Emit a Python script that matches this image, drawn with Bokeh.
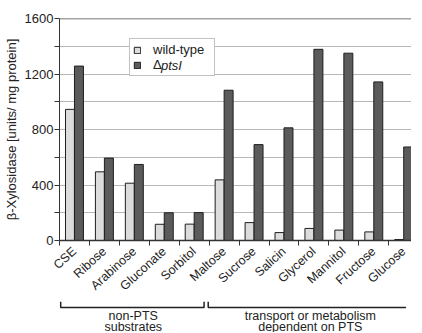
import math
from bokeh.plotting import figure
from bokeh.models import (Range1d, FixedTicker, Legend, LegendItem, Span,
                          ColumnDataSource)
from bokeh.layouts import column
from bokeh.embed import file_html
from bokeh.resources import INLINE
from bokeh.core.properties import value

# ---- data ----
categories = ["CSE", "Ribose", "Arabinose", "Gluconate", "Sorbitol", "Maltose",
              "Sucrose", "Salicin", "Glycerol", "Mannitol", "Fructose", "Glucose"]
wild_type = [945, 495, 413, 117, 118, 437, 129, 57, 87, 75, 62, 7]
delta_ptsI = [1257, 594, 548, 200, 201, 1083, 691, 812, 1378, 1350, 1143, 674]
y_ticks = [0, 400, 800, 1200, 1600]
y_minor = [200, 600, 1000, 1400]
group_start = [0, 5]
group_end = [5, 12]
group_line1 = ["non-PTS", "transport or metabolism"]
group_line2 = ["substrates", "dependent on PTS"]

FONT = "Liberation Sans"
TXT = "#222222"
LEFT = 54
FRAME_W = 352
FRAME_H = 222
X_END = 11.76
W = LEFT + FRAME_W
H2 = 31

n = len(categories)
centers = [i + 0.5 for i in range(n)]
bounds = list(range(n + 1))
x_range = Range1d(0, X_END)

p = figure(frame_width=FRAME_W, frame_height=FRAME_H, x_range=x_range,
           y_range=Range1d(0, 1600),
           output_backend="svg", toolbar_location=None,
           min_border_left=LEFT, min_border_right=0, min_border_top=18,
           min_border_bottom=0)
p.outline_line_color = None

src = ColumnDataSource(dict(xl=[c - 0.15 for c in centers],
                            xd=[c + 0.15 for c in centers],
                            wt=wild_type, dp=delta_ptsI))
r1 = p.vbar(x="xl", top="wt", width=0.3, bottom=0, source=src,
            fill_color="#dcdcdc", line_color="#1e1e1e", line_width=1)
r2 = p.vbar(x="xd", top="dp", width=0.3, bottom=0, source=src,
            fill_color="#5b5b5b", line_color="#1e1e1e", line_width=1)
dummy = p.vbar(x=[], top=[], width=0.3, fill_alpha=0, line_alpha=0)

# grid
p.xgrid.visible = False
p.ygrid.ticker = FixedTicker(ticks=y_ticks + y_minor)
p.ygrid.grid_line_color = "#b8b8b8"
p.ygrid.grid_line_width = 1
p.ygrid.level = "underlay"
p.add_layout(Span(location=1600, dimension="width", line_color="#4a4a4a",
                  line_width=1.5))

# y axis
ya = p.yaxis[0]
ya.ticker = FixedTicker(ticks=y_ticks, minor_ticks=y_minor)
ya.axis_label = "β-Xylosidase [units/ mg protein]"
ya.axis_label_text_font = FONT
ya.axis_label_text_font_size = "13px"
ya.axis_label_text_font_style = "normal"
ya.axis_label_text_color = TXT
ya.axis_label_standoff = 3
ya.major_label_text_font = FONT
ya.major_label_text_font_size = "13px"
ya.major_label_text_color = TXT
ya.major_label_standoff = 1
ya.major_tick_out = 5
ya.major_tick_in = 0
ya.minor_tick_out = 5
ya.minor_tick_in = 0
ya.axis_line_color = "#333333"
ya.major_tick_line_color = "#333333"
ya.minor_tick_line_color = "#333333"

# x axis: category names between boundary ticks
xa = p.xaxis[0]
xa.ticker = FixedTicker(ticks=centers, minor_ticks=bounds)
xa.major_label_overrides = {c: name for c, name in zip(centers, categories)}
xa.major_label_orientation = 0.74
xa.major_label_text_font = FONT
xa.major_label_text_font_size = "12.5px"
xa.major_label_text_color = TXT
xa.major_label_standoff = 4
xa.major_tick_out = 0
xa.major_tick_in = 0
xa.minor_tick_out = 5
xa.minor_tick_in = 0
xa.axis_line_color = "#333333"
xa.axis_line_width = 1.5
xa.minor_tick_line_color = "#333333"

legend = Legend(items=[LegendItem(label="wild-type", renderers=[r1]),
                       LegendItem(label="Δ", renderers=[r2])],
                location=(70, 164), margin=0, padding=3, spacing=-5,
                glyph_width=8, glyph_height=8, label_height=12,
                label_width=58, label_standoff=12, label_text_font=FONT,
                label_text_font_size="13px", label_text_color=TXT,
                border_line_color="#888888", border_line_width=1,
                background_fill_color="white", background_fill_alpha=1.0)
p.add_layout(legend)
legend2 = Legend(items=[LegendItem(label="ptsI", renderers=[dummy])],
                 location=(98, 164), margin=0, padding=3,
                 glyph_width=1, glyph_height=8, label_height=12,
                 label_standoff=0, label_text_font=FONT,
                 label_text_font_size="13px", label_text_font_style="italic",
                 label_text_color=TXT, border_line_alpha=0,
                 background_fill_alpha=0)
p.add_layout(legend2)

# ---- group brackets below (frames are aligned by the column) ----
q = figure(width=W, height=H2, x_range=x_range,
           y_range=Range1d(H2, 0), x_axis_location=None, y_axis_location=None,
           output_backend="svg", toolbar_location=None,
           min_border_left=LEFT, min_border_right=0, min_border_top=0,
           min_border_bottom=0)
q.outline_line_color = None
q.grid.visible = False

xs, ys = [], []
for s, e in zip(group_start, group_end):
    a, b = s + 0.04, e - 0.1
    xs.append([a, a, b, b])
    ys.append([0, 6, 6, 0])
q.multi_line(xs=xs, ys=ys, line_color="#222222", line_width=1.5)
mids = [(s + e) / 2 for s, e in zip(group_start, group_end)]
q.text(x=mids, y=[14] * 2, text=group_line1, text_align="center",
       text_baseline="middle", text_font=value(FONT), text_font_size="12.5px",
       text_color=TXT)
q.text(x=mids, y=[25] * 2, text=group_line2, text_align="center",
       text_baseline="middle", text_font=value(FONT), text_font_size="12.5px",
       text_color=TXT)

layout = column(p, q, spacing=0)
open("out.html", "w").write(file_html(layout, INLINE))
